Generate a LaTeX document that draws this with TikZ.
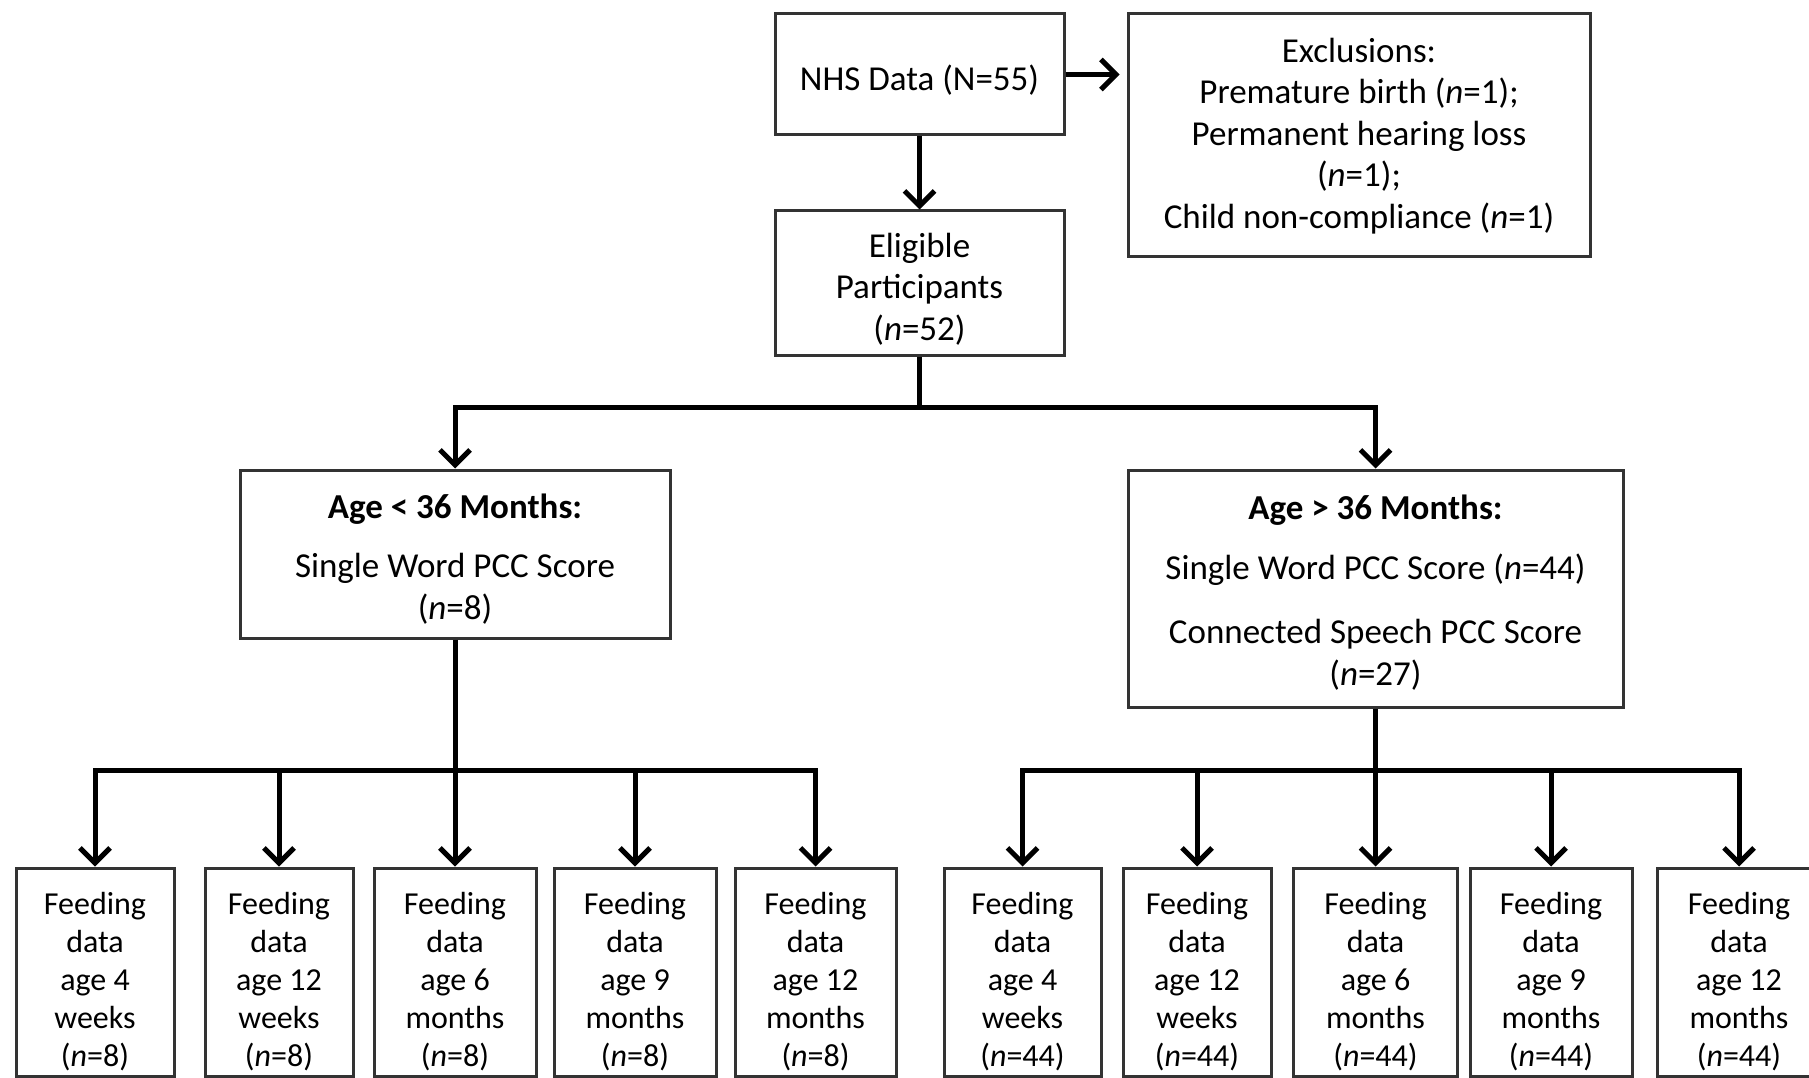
\documentclass[tikz,border=0pt]{standalone}
\usepackage{fontspec}
\setmainfont{Carlito}
\usetikzlibrary{arrows.meta}

\tikzset{
  box/.style={draw=black!80, line width=3pt, rectangle, inner sep=0pt},
  feed/.style={box, minimum height=208pt},
  txt/.style={inner sep=0pt, align=center, font=\fontsize{35pt}{41.5pt}\selectfont},
  feedtxt/.style={txt, font=\fontsize{32pt}{38pt}\selectfont},
  conn/.style={line width=5pt, black},
  arr/.style={conn, -{Straight Barb[length=15pt,width=30pt]}}
}
\newcommand{\nn}{\textit{n}}

\begin{document}
\begin{tikzpicture}[x=1pt,y=-1pt]
\useasboundingbox (0,0) rectangle (1809,1078);

% top of the flow
\node[box, minimum width=289pt, minimum height=121pt] (nhs) at (919.5,74.5) {};
\node[txt] (nhs-t) at ([yshift=-6pt]nhs.center) {NHS Data (N=55)};
\node[box, minimum width=462pt, minimum height=242pt] (excl) at (1359,135) {};
\node[txt] (excl-t) at ([yshift=-1pt]excl.center)
  {Exclusions:\\ Premature birth (\nn=1);\\ Permanent hearing loss\\ (\nn=1);\\ Child non-compliance (\nn=1)};
\node[box, minimum width=289pt, minimum height=144pt] (elig) at (919.5,283) {};
\node[txt] (elig-t) at ([yshift=-6pt]elig.center) {Eligible\\ Participants\\ (\nn=52)};

% age groups
\node[box, minimum width=430pt, minimum height=168pt] (young) at (455,554) {};
\node[txt] (young-t) at ([yshift=-5pt]young.center)
  {\textbf{Age < 36 Months:}\\[18pt] Single Word PCC Score\\ (\nn=8)};
\node[box, minimum width=495pt, minimum height=237pt] (old) at (1375.5,588.5) {};
\node[txt] (old-t) at ([yshift=-4pt]old.center)
  {\textbf{Age > 36 Months:}\\[18.5pt] Single Word PCC Score (\nn=44)\\[23pt] Connected Speech PCC Score\\ (\nn=27)};

% feeding data boxes: name / centre x / width / age / unit / sample size
\foreach \nm/\cx/\w/\age/\unit/\cnt in {
    y1/95/158/4/weeks/8, y2/279/148/12/weeks/8, y3/455/162/6/months/8,
    y4/635/162/9/months/8, y5/815.5/161/12/months/8,
    o1/1022.5/157/4/weeks/44, o2/1197/148/12/weeks/44, o3/1375.5/164/6/months/44,
    o4/1551/162/9/months/44, o5/1739/164/12/months/44} {
  \node[feed, minimum width=\w pt] (\nm) at (\cx,972) {};
  \node[feedtxt] (\nm-t) at ([yshift=-10pt]\nm.center)
    {Feeding\\ data\\ age \age\\ \unit\\ (\nn=\cnt)};
}

% branching points
\coordinate (split)  at (919.5,407);
\coordinate (ysplit) at (455,770);
\coordinate (osplit) at (1375.5,770);

% connectors
\draw[arr, shorten >=7pt] (nhs.east) -- (nhs.east -| excl.west);
\draw[arr] (nhs.south) -- (elig.north);
\draw[conn] (elig.south) -- (split);
\draw[arr] (split) -| (young.north);
\draw[arr] (split) -| (old.north);
\draw[conn] (young.south) -- (ysplit);
\draw[conn] (old.south) -- (osplit);
\foreach \b in {y1,y2,y3,y4,y5} \draw[arr] (ysplit) -| (\b.north);
\foreach \b in {o1,o2,o3,o4,o5} \draw[arr] (osplit) -| (\b.north);
\end{tikzpicture}
\end{document}
